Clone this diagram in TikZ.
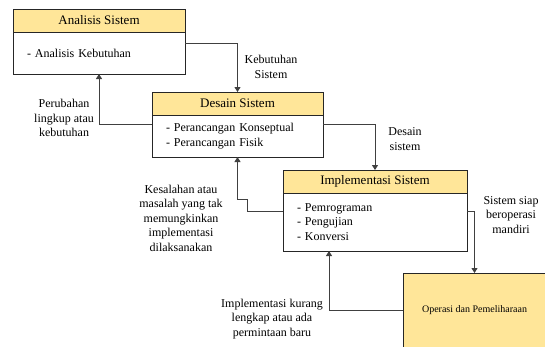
\documentclass[tikz,border=0pt]{standalone}
\usepackage{fontspec}
\setmainfont{Liberation Serif}
\newfontfamily\timesfont{Liberation Serif}
\usetikzlibrary{positioning,arrows.meta}
\definecolor{headfill}{RGB}{255,230,153}
\definecolor{linegray}{RGB}{64,64,64}

\begin{document}
\begin{tikzpicture}[x=1pt, y=-1pt, >={Triangle[width=6pt,length=5pt]},
    head/.style={draw=black!85, fill=headfill, line width=0.8pt, outer sep=0pt, inner sep=0pt,
        minimum height=23pt, font=\timesfont\fontsize{13}{15}\selectfont},
    body/.style={draw=black!85, fill=white, line width=0.8pt, outer sep=0pt, align=left,
        inner xsep=14pt, inner ysep=0pt, font=\timesfont\fontsize{12}{14.5}\selectfont},
    conn/.style={->, line width=1pt, draw=linegray},
    lbl/.style={align=center, font=\timesfont\fontsize{12}{14.5}\selectfont}]
    \useasboundingbox (0,0) rectangle (545,346);
    \clip (0,0) rectangle (545,346);

    % Analisis box
    \node[head, minimum width=172pt, anchor=north west] (analisisH) at (13,9) {Analisis Sistem};
    \node[body, text width=144pt, minimum height=42pt, below=0pt of analisisH] (analisisB) {- Analisis Kebutuhan};

    % Desain box
    \node[head, minimum width=171pt, anchor=north west] (desainH) at (152,92) {Desain Sistem};
    \node[body, text width=143pt, minimum height=42pt, below=0pt of desainH] (desainB) {- Perancangan Konseptual\\- Perancangan Fisik};

    % Implementasi box
    \node[head, minimum width=184pt, anchor=north west] (implH) at (283,170) {Implementasi Sistem};
    \node[body, text width=156pt, minimum height=58pt, below=0pt of implH] (implB) {- Pemrograman\\- Pengujian\\- Konversi};

    % Operasi box (runs off the page)
    \node[draw=black!85, fill=headfill, line width=0.8pt, outer sep=0pt, minimum width=143pt,
        minimum height=75pt, anchor=north west, font=\timesfont\fontsize{10}{12}\selectfont] (operasi) at (403,273) {Operasi dan Pemeliharaan};

    % Forward connectors
    \draw[conn] ([yshift=-11pt]analisisB.north east) -| (desainH.north);
    \draw[conn] ([yshift=-9pt]desainB.north east) -| (implH.north);
    \draw[conn] ([yshift=-18pt]implB.north east) -| (operasi.north);

    % Feedback connectors
    \draw[conn] ([yshift=-9pt]desainB.north west) -| (analisisB.south);
    \draw[conn] ([yshift=-18pt]implB.north west) -- ++(-36,0) -- ++(0,-12) -| (desainB.south);
    \draw[conn] (operasi.west) -| ([xshift=-46pt]implB.south);

    % Labels
    \node[lbl] (kebutuhanLbl) at (271,67) {Kebutuhan\\Sistem};
    \node[lbl] (perubahanLbl) at (64,118) {Perubahan\\lingkup atau\\kebutuhan};
    \node[lbl] (desainLbl) at (405,139) {Desain\\sistem};
    \node[lbl] (kesalahanLbl) at (181,218) {Kesalahan atau\\masalah yang tak\\memungkinkan\\implementasi\\dilaksanakan};
    \node[lbl] (siapLbl) at (511,215) {Sistem siap\\beroperasi\\mandiri};
    \node[lbl] (kurangLbl) at (272,319) {Implementasi kurang\\lengkap atau ada\\permintaan baru};
\end{tikzpicture}
\end{document}
